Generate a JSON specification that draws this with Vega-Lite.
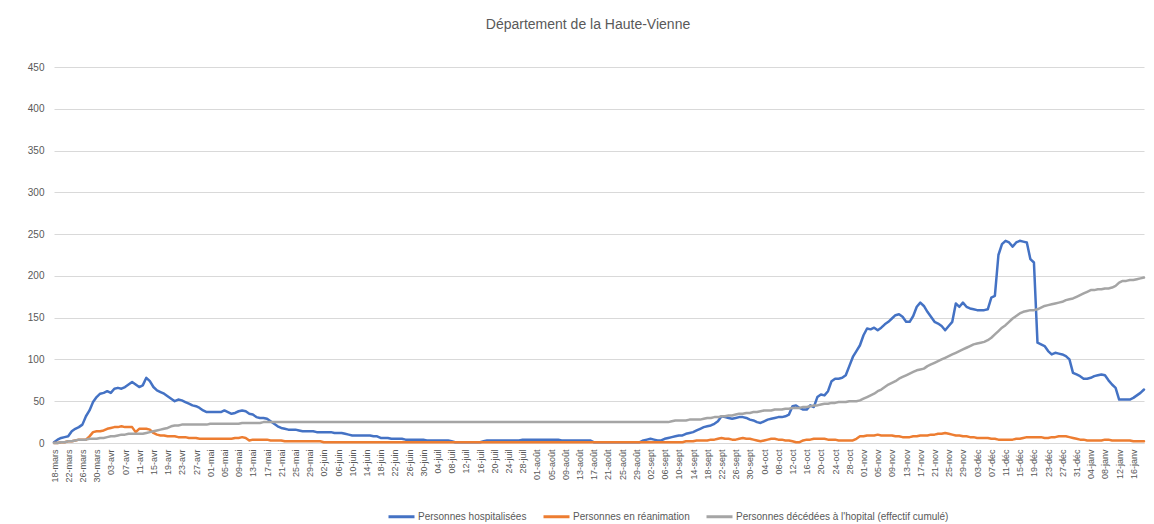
{
  "$schema": "https://vega.github.io/schema/vega-lite/v6.json",
  "width": 1090,
  "height": 376,
  "autosize": "none",
  "padding": {"left": 54, "top": 67, "right": 10, "bottom": 81},
  "background": "white",
  "config": {"view": {"stroke": null}, "font": "Liberation Sans"},
  "title": {"text": "Département de la Haute-Vienne", "fontSize": 14, "fontWeight": "normal", "color": "#595959", "dx": -11, "offset": 30},
  "data": {"values": [
{"t":"2020-03-18","s1":1,"s2":0,"s3":0},{"t":"2020-03-19","s1":4,"s2":0,"s3":0},{"t":"2020-03-20","s1":6,"s2":1,"s3":1},{"t":"2020-03-21","s1":7,"s2":1,"s3":1},{"t":"2020-03-22","s1":8,"s2":2,"s3":2},{"t":"2020-03-23","s1":14,"s2":2,"s3":2},{"t":"2020-03-24","s1":17,"s2":3,"s3":3},{"t":"2020-03-25","s1":19,"s2":4,"s3":4},{"t":"2020-03-26","s1":22,"s2":4,"s3":4},{"t":"2020-03-27","s1":32,"s2":4,"s3":4},{"t":"2020-03-28","s1":39,"s2":8,"s3":5},{"t":"2020-03-29","s1":49,"s2":13,"s3":5},{"t":"2020-03-30","s1":55,"s2":14,"s3":5},{"t":"2020-03-31","s1":59,"s2":14,"s3":6},
{"t":"2020-04-01","s1":60,"s2":15,"s3":6},{"t":"2020-04-02","s1":62,"s2":17,"s3":7},{"t":"2020-04-03","s1":60,"s2":18,"s3":8},{"t":"2020-04-04","s1":65,"s2":19,"s3":8},{"t":"2020-04-05","s1":66,"s2":19,"s3":9},{"t":"2020-04-06","s1":65,"s2":20,"s3":10},{"t":"2020-04-07","s1":67,"s2":19,"s3":10},{"t":"2020-04-08","s1":70,"s2":19,"s3":11},{"t":"2020-04-09","s1":73,"s2":19,"s3":11},{"t":"2020-04-10","s1":70,"s2":13,"s3":11},{"t":"2020-04-11","s1":67,"s2":17,"s3":11},{"t":"2020-04-12","s1":69,"s2":17,"s3":11},{"t":"2020-04-13","s1":78,"s2":17,"s3":12},{"t":"2020-04-14","s1":74,"s2":16,"s3":13},{"t":"2020-04-15","s1":67,"s2":12,"s3":14},{"t":"2020-04-16","s1":63,"s2":10,"s3":15},{"t":"2020-04-17","s1":61,"s2":9,"s3":16},{"t":"2020-04-18","s1":59,"s2":9,"s3":17},{"t":"2020-04-19","s1":56,"s2":8,"s3":18},{"t":"2020-04-20","s1":53,"s2":8,"s3":20},{"t":"2020-04-21","s1":50,"s2":8,"s3":21},{"t":"2020-04-22","s1":52,"s2":7,"s3":21},{"t":"2020-04-23","s1":51,"s2":7,"s3":22},{"t":"2020-04-24","s1":49,"s2":7,"s3":22},{"t":"2020-04-25","s1":47,"s2":6,"s3":22},{"t":"2020-04-26","s1":45,"s2":6,"s3":22},{"t":"2020-04-27","s1":44,"s2":6,"s3":22},{"t":"2020-04-28","s1":42,"s2":5,"s3":22},{"t":"2020-04-29","s1":39,"s2":5,"s3":22},{"t":"2020-04-30","s1":37,"s2":5,"s3":22},
{"t":"2020-05-01","s1":37,"s2":5,"s3":23},{"t":"2020-05-02","s1":37,"s2":5,"s3":23},{"t":"2020-05-03","s1":37,"s2":5,"s3":23},{"t":"2020-05-04","s1":37,"s2":5,"s3":23},{"t":"2020-05-05","s1":39,"s2":5,"s3":23},{"t":"2020-05-06","s1":37,"s2":5,"s3":23},{"t":"2020-05-07","s1":35,"s2":5,"s3":23},{"t":"2020-05-08","s1":36,"s2":6,"s3":23},{"t":"2020-05-09","s1":38,"s2":6,"s3":23},{"t":"2020-05-10","s1":39,"s2":7,"s3":24},{"t":"2020-05-11","s1":38,"s2":6,"s3":24},{"t":"2020-05-12","s1":35,"s2":3,"s3":24},{"t":"2020-05-13","s1":34,"s2":4,"s3":24},{"t":"2020-05-14","s1":31,"s2":4,"s3":24},{"t":"2020-05-15","s1":30,"s2":4,"s3":24},{"t":"2020-05-16","s1":30,"s2":4,"s3":25},{"t":"2020-05-17","s1":29,"s2":4,"s3":25},{"t":"2020-05-18","s1":26,"s2":3,"s3":25},{"t":"2020-05-19","s1":23,"s2":3,"s3":25},{"t":"2020-05-20","s1":20,"s2":3,"s3":25},{"t":"2020-05-21","s1":18,"s2":3,"s3":25},{"t":"2020-05-22","s1":17,"s2":2,"s3":25},{"t":"2020-05-23","s1":16,"s2":2,"s3":25},{"t":"2020-05-24","s1":16,"s2":2,"s3":25},{"t":"2020-05-25","s1":16,"s2":2,"s3":25},{"t":"2020-05-26","s1":15,"s2":2,"s3":25},{"t":"2020-05-27","s1":14,"s2":2,"s3":25},{"t":"2020-05-28","s1":14,"s2":2,"s3":25},{"t":"2020-05-29","s1":14,"s2":2,"s3":25},{"t":"2020-05-30","s1":14,"s2":2,"s3":25},{"t":"2020-05-31","s1":13,"s2":2,"s3":25},
{"t":"2020-06-01","s1":13,"s2":2,"s3":25},{"t":"2020-06-02","s1":13,"s2":1,"s3":25},{"t":"2020-06-03","s1":13,"s2":1,"s3":25},{"t":"2020-06-04","s1":13,"s2":1,"s3":25},{"t":"2020-06-05","s1":12,"s2":1,"s3":25},{"t":"2020-06-06","s1":12,"s2":1,"s3":25},{"t":"2020-06-07","s1":12,"s2":1,"s3":25},{"t":"2020-06-08","s1":11,"s2":1,"s3":25},{"t":"2020-06-09","s1":10,"s2":1,"s3":25},{"t":"2020-06-10","s1":9,"s2":1,"s3":25},{"t":"2020-06-11","s1":9,"s2":1,"s3":25},{"t":"2020-06-12","s1":9,"s2":1,"s3":25},{"t":"2020-06-13","s1":9,"s2":1,"s3":25},{"t":"2020-06-14","s1":9,"s2":1,"s3":25},{"t":"2020-06-15","s1":9,"s2":1,"s3":25},{"t":"2020-06-16","s1":8,"s2":1,"s3":25},{"t":"2020-06-17","s1":8,"s2":1,"s3":25},{"t":"2020-06-18","s1":6,"s2":1,"s3":25},{"t":"2020-06-19","s1":6,"s2":1,"s3":25},{"t":"2020-06-20","s1":6,"s2":1,"s3":25},{"t":"2020-06-21","s1":5,"s2":1,"s3":25},{"t":"2020-06-22","s1":5,"s2":1,"s3":25},{"t":"2020-06-23","s1":5,"s2":1,"s3":25},{"t":"2020-06-24","s1":5,"s2":1,"s3":25},{"t":"2020-06-25","s1":4,"s2":1,"s3":25},{"t":"2020-06-26","s1":4,"s2":1,"s3":25},{"t":"2020-06-27","s1":4,"s2":1,"s3":25},{"t":"2020-06-28","s1":4,"s2":1,"s3":25},{"t":"2020-06-29","s1":4,"s2":1,"s3":25},{"t":"2020-06-30","s1":4,"s2":1,"s3":25},
{"t":"2020-07-01","s1":3,"s2":1,"s3":25},{"t":"2020-07-02","s1":3,"s2":1,"s3":25},{"t":"2020-07-03","s1":3,"s2":1,"s3":25},{"t":"2020-07-04","s1":3,"s2":1,"s3":25},{"t":"2020-07-05","s1":3,"s2":1,"s3":25},{"t":"2020-07-06","s1":3,"s2":1,"s3":25},{"t":"2020-07-07","s1":3,"s2":1,"s3":25},{"t":"2020-07-08","s1":2,"s2":1,"s3":25},{"t":"2020-07-09","s1":1,"s2":1,"s3":25},{"t":"2020-07-10","s1":1,"s2":1,"s3":25},{"t":"2020-07-11","s1":1,"s2":1,"s3":25},{"t":"2020-07-12","s1":1,"s2":1,"s3":25},{"t":"2020-07-13","s1":1,"s2":1,"s3":25},{"t":"2020-07-14","s1":1,"s2":1,"s3":25},{"t":"2020-07-15","s1":1,"s2":1,"s3":25},{"t":"2020-07-16","s1":1,"s2":1,"s3":25},{"t":"2020-07-17","s1":2,"s2":1,"s3":25},{"t":"2020-07-18","s1":3,"s2":1,"s3":25},{"t":"2020-07-19","s1":3,"s2":1,"s3":25},{"t":"2020-07-20","s1":3,"s2":1,"s3":25},{"t":"2020-07-21","s1":3,"s2":1,"s3":25},{"t":"2020-07-22","s1":3,"s2":1,"s3":25},{"t":"2020-07-23","s1":3,"s2":1,"s3":25},{"t":"2020-07-24","s1":3,"s2":1,"s3":25},{"t":"2020-07-25","s1":3,"s2":1,"s3":25},{"t":"2020-07-26","s1":3,"s2":1,"s3":25},{"t":"2020-07-27","s1":3,"s2":1,"s3":25},{"t":"2020-07-28","s1":4,"s2":1,"s3":25},{"t":"2020-07-29","s1":4,"s2":1,"s3":25},{"t":"2020-07-30","s1":4,"s2":1,"s3":25},{"t":"2020-07-31","s1":4,"s2":1,"s3":25},
{"t":"2020-08-01","s1":4,"s2":1,"s3":25},{"t":"2020-08-02","s1":4,"s2":1,"s3":25},{"t":"2020-08-03","s1":4,"s2":1,"s3":25},{"t":"2020-08-04","s1":4,"s2":1,"s3":25},{"t":"2020-08-05","s1":4,"s2":1,"s3":25},{"t":"2020-08-06","s1":4,"s2":1,"s3":25},{"t":"2020-08-07","s1":4,"s2":1,"s3":25},{"t":"2020-08-08","s1":3,"s2":1,"s3":25},{"t":"2020-08-09","s1":3,"s2":1,"s3":25},{"t":"2020-08-10","s1":3,"s2":1,"s3":25},{"t":"2020-08-11","s1":3,"s2":1,"s3":25},{"t":"2020-08-12","s1":3,"s2":1,"s3":25},{"t":"2020-08-13","s1":3,"s2":1,"s3":25},{"t":"2020-08-14","s1":3,"s2":1,"s3":25},{"t":"2020-08-15","s1":3,"s2":1,"s3":25},{"t":"2020-08-16","s1":3,"s2":1,"s3":25},{"t":"2020-08-17","s1":1,"s2":1,"s3":25},{"t":"2020-08-18","s1":1,"s2":1,"s3":25},{"t":"2020-08-19","s1":1,"s2":1,"s3":25},{"t":"2020-08-20","s1":1,"s2":1,"s3":25},{"t":"2020-08-21","s1":1,"s2":1,"s3":25},{"t":"2020-08-22","s1":1,"s2":1,"s3":25},{"t":"2020-08-23","s1":1,"s2":1,"s3":25},{"t":"2020-08-24","s1":1,"s2":1,"s3":25},{"t":"2020-08-25","s1":1,"s2":1,"s3":25},{"t":"2020-08-26","s1":1,"s2":1,"s3":25},{"t":"2020-08-27","s1":1,"s2":1,"s3":25},{"t":"2020-08-28","s1":1,"s2":1,"s3":25},{"t":"2020-08-29","s1":1,"s2":1,"s3":25},{"t":"2020-08-30","s1":1,"s2":1,"s3":25},{"t":"2020-08-31","s1":3,"s2":1,"s3":25},
{"t":"2020-09-01","s1":4,"s2":1,"s3":25},{"t":"2020-09-02","s1":5,"s2":1,"s3":25},{"t":"2020-09-03","s1":4,"s2":1,"s3":25},{"t":"2020-09-04","s1":3,"s2":1,"s3":25},{"t":"2020-09-05","s1":3,"s2":1,"s3":25},{"t":"2020-09-06","s1":5,"s2":1,"s3":25},{"t":"2020-09-07","s1":6,"s2":1,"s3":25},{"t":"2020-09-08","s1":7,"s2":1,"s3":26},{"t":"2020-09-09","s1":8,"s2":1,"s3":27},{"t":"2020-09-10","s1":9,"s2":1,"s3":27},{"t":"2020-09-11","s1":9,"s2":1,"s3":27},{"t":"2020-09-12","s1":11,"s2":2,"s3":27},{"t":"2020-09-13","s1":12,"s2":2,"s3":28},{"t":"2020-09-14","s1":13,"s2":2,"s3":28},{"t":"2020-09-15","s1":15,"s2":3,"s3":28},{"t":"2020-09-16","s1":17,"s2":3,"s3":28},{"t":"2020-09-17","s1":19,"s2":3,"s3":29},{"t":"2020-09-18","s1":20,"s2":3,"s3":30},{"t":"2020-09-19","s1":21,"s2":4,"s3":30},{"t":"2020-09-20","s1":23,"s2":4,"s3":31},{"t":"2020-09-21","s1":26,"s2":5,"s3":31},{"t":"2020-09-22","s1":32,"s2":6,"s3":32},{"t":"2020-09-23","s1":31,"s2":5,"s3":32},{"t":"2020-09-24","s1":30,"s2":5,"s3":33},{"t":"2020-09-25","s1":29,"s2":4,"s3":33},{"t":"2020-09-26","s1":30,"s2":4,"s3":34},{"t":"2020-09-27","s1":31,"s2":5,"s3":35},{"t":"2020-09-28","s1":31,"s2":6,"s3":35},{"t":"2020-09-29","s1":30,"s2":5,"s3":36},{"t":"2020-09-30","s1":28,"s2":5,"s3":36},
{"t":"2020-10-01","s1":27,"s2":4,"s3":37},{"t":"2020-10-02","s1":25,"s2":3,"s3":37},{"t":"2020-10-03","s1":24,"s2":2,"s3":38},{"t":"2020-10-04","s1":26,"s2":3,"s3":39},{"t":"2020-10-05","s1":28,"s2":4,"s3":39},{"t":"2020-10-06","s1":29,"s2":5,"s3":39},{"t":"2020-10-07","s1":30,"s2":5,"s3":40},{"t":"2020-10-08","s1":31,"s2":4,"s3":40},{"t":"2020-10-09","s1":31,"s2":4,"s3":40},{"t":"2020-10-10","s1":32,"s2":3,"s3":41},{"t":"2020-10-11","s1":34,"s2":3,"s3":41},{"t":"2020-10-12","s1":44,"s2":2,"s3":42},{"t":"2020-10-13","s1":45,"s2":1,"s3":42},{"t":"2020-10-14","s1":42,"s2":1,"s3":42},{"t":"2020-10-15","s1":40,"s2":3,"s3":43},{"t":"2020-10-16","s1":40,"s2":4,"s3":43},{"t":"2020-10-17","s1":45,"s2":4,"s3":44},{"t":"2020-10-18","s1":43,"s2":5,"s3":45},{"t":"2020-10-19","s1":55,"s2":5,"s3":45},{"t":"2020-10-20","s1":58,"s2":5,"s3":46},{"t":"2020-10-21","s1":57,"s2":5,"s3":47},{"t":"2020-10-22","s1":62,"s2":4,"s3":47},{"t":"2020-10-23","s1":74,"s2":4,"s3":48},{"t":"2020-10-24","s1":77,"s2":4,"s3":48},{"t":"2020-10-25","s1":77,"s2":3,"s3":49},{"t":"2020-10-26","s1":78,"s2":3,"s3":49},{"t":"2020-10-27","s1":81,"s2":3,"s3":49},{"t":"2020-10-28","s1":92,"s2":3,"s3":50},{"t":"2020-10-29","s1":103,"s2":3,"s3":50},{"t":"2020-10-30","s1":110,"s2":5,"s3":50},{"t":"2020-10-31","s1":117,"s2":8,"s3":51},
{"t":"2020-11-01","s1":129,"s2":8,"s3":53},{"t":"2020-11-02","s1":137,"s2":9,"s3":55},{"t":"2020-11-03","s1":136,"s2":9,"s3":57},{"t":"2020-11-04","s1":138,"s2":9,"s3":59},{"t":"2020-11-05","s1":135,"s2":10,"s3":62},{"t":"2020-11-06","s1":138,"s2":9,"s3":64},{"t":"2020-11-07","s1":142,"s2":9,"s3":67},{"t":"2020-11-08","s1":145,"s2":9,"s3":70},{"t":"2020-11-09","s1":149,"s2":9,"s3":72},{"t":"2020-11-10","s1":153,"s2":8,"s3":74},{"t":"2020-11-11","s1":154,"s2":8,"s3":77},{"t":"2020-11-12","s1":151,"s2":7,"s3":79},{"t":"2020-11-13","s1":145,"s2":7,"s3":81},{"t":"2020-11-14","s1":145,"s2":7,"s3":83},{"t":"2020-11-15","s1":152,"s2":8,"s3":85},{"t":"2020-11-16","s1":163,"s2":8,"s3":87},{"t":"2020-11-17","s1":168,"s2":9,"s3":88},{"t":"2020-11-18","s1":164,"s2":9,"s3":89},{"t":"2020-11-19","s1":157,"s2":9,"s3":92},{"t":"2020-11-20","s1":151,"s2":10,"s3":94},{"t":"2020-11-21","s1":145,"s2":10,"s3":96},{"t":"2020-11-22","s1":143,"s2":11,"s3":98},{"t":"2020-11-23","s1":140,"s2":11,"s3":100},{"t":"2020-11-24","s1":135,"s2":12,"s3":102},{"t":"2020-11-25","s1":140,"s2":11,"s3":104},{"t":"2020-11-26","s1":145,"s2":10,"s3":106},{"t":"2020-11-27","s1":167,"s2":9,"s3":108},{"t":"2020-11-28","s1":163,"s2":9,"s3":110},{"t":"2020-11-29","s1":168,"s2":8,"s3":112},{"t":"2020-11-30","s1":163,"s2":8,"s3":114},
{"t":"2020-12-01","s1":161,"s2":7,"s3":116},{"t":"2020-12-02","s1":160,"s2":7,"s3":118},{"t":"2020-12-03","s1":159,"s2":6,"s3":119},{"t":"2020-12-04","s1":159,"s2":6,"s3":120},{"t":"2020-12-05","s1":159,"s2":6,"s3":121},{"t":"2020-12-06","s1":160,"s2":6,"s3":123},{"t":"2020-12-07","s1":174,"s2":5,"s3":126},{"t":"2020-12-08","s1":176,"s2":5,"s3":130},{"t":"2020-12-09","s1":225,"s2":4,"s3":134},{"t":"2020-12-10","s1":238,"s2":4,"s3":138},{"t":"2020-12-11","s1":242,"s2":4,"s3":141},{"t":"2020-12-12","s1":240,"s2":4,"s3":145},{"t":"2020-12-13","s1":235,"s2":4,"s3":149},{"t":"2020-12-14","s1":240,"s2":5,"s3":152},{"t":"2020-12-15","s1":242,"s2":5,"s3":155},{"t":"2020-12-16","s1":241,"s2":6,"s3":157},{"t":"2020-12-17","s1":240,"s2":7,"s3":158},{"t":"2020-12-18","s1":220,"s2":7,"s3":159},{"t":"2020-12-19","s1":216,"s2":7,"s3":159},{"t":"2020-12-20","s1":120,"s2":7,"s3":160},{"t":"2020-12-21","s1":118,"s2":7,"s3":162},{"t":"2020-12-22","s1":116,"s2":6,"s3":164},{"t":"2020-12-23","s1":110,"s2":6,"s3":165},{"t":"2020-12-24","s1":106,"s2":7,"s3":166},{"t":"2020-12-25","s1":108,"s2":7,"s3":167},{"t":"2020-12-26","s1":107,"s2":8,"s3":168},{"t":"2020-12-27","s1":106,"s2":8,"s3":169},{"t":"2020-12-28","s1":104,"s2":8,"s3":171},{"t":"2020-12-29","s1":100,"s2":7,"s3":172},{"t":"2020-12-30","s1":84,"s2":6,"s3":173},{"t":"2020-12-31","s1":82,"s2":5,"s3":175},
{"t":"2021-01-01","s1":80,"s2":4,"s3":177},{"t":"2021-01-02","s1":77,"s2":4,"s3":179},{"t":"2021-01-03","s1":77,"s2":3,"s3":181},{"t":"2021-01-04","s1":78,"s2":3,"s3":183},{"t":"2021-01-05","s1":80,"s2":3,"s3":183},{"t":"2021-01-06","s1":81,"s2":3,"s3":184},{"t":"2021-01-07","s1":82,"s2":3,"s3":184},{"t":"2021-01-08","s1":81,"s2":4,"s3":185},{"t":"2021-01-09","s1":75,"s2":4,"s3":185},{"t":"2021-01-10","s1":70,"s2":3,"s3":186},{"t":"2021-01-11","s1":66,"s2":3,"s3":188},{"t":"2021-01-12","s1":52,"s2":3,"s3":192},{"t":"2021-01-13","s1":52,"s2":3,"s3":194},{"t":"2021-01-14","s1":52,"s2":3,"s3":194},{"t":"2021-01-15","s1":52,"s2":3,"s3":195},{"t":"2021-01-16","s1":54,"s2":2,"s3":195},{"t":"2021-01-17","s1":57,"s2":2,"s3":196},{"t":"2021-01-18","s1":60,"s2":2,"s3":197},{"t":"2021-01-19","s1":64,"s2":2,"s3":198}
  ]},
  "transform": [{"fold": ["s1", "s2", "s3"], "as": ["k", "v"]}],
  "mark": {"type": "line", "strokeWidth": 2.5, "strokeJoin": "round", "strokeCap": "round"},
  "encoding": {
    "x": {
      "field": "t", "type": "temporal",
      "scale": {"type": "utc", "domain": [{"year": 2020, "month": 3, "date": 18, "utc": true}, {"year": 2021, "month": 1, "date": 19, "utc": true}], "nice": false},
      "axis": {
        "title": null, "grid": false, "ticks": false, "domain": true, "domainColor": "#D9D9D9",
        "tickCount": {"interval": "day", "step": 1},
        "labelOverlap": false, "labelAngle": 270, "labelPadding": 6, "labelFontSize": 9, "labelColor": "#595959", "labelFlush": false,
        "labelExpr": "(round((datum.value - 1584489600000) / 86400000) % 4 == 0) ? utcFormat(datum.value, '%d') + '-' + ['janv','févr','mars','avr','mai','juin','juil','août','sept','oct','nov','déc'][utcmonth(datum.value)] : ''"
      }
    },
    "y": {
      "field": "v", "type": "quantitative",
      "scale": {"domain": [0, 450], "nice": false},
      "axis": {"title": null, "values": [0, 50, 100, 150, 200, 250, 300, 350, 400, 450], "domain": false, "ticks": false, "gridColor": "#D9D9D9", "gridWidth": 1, "labelPadding": 10, "labelFontSize": 10, "labelColor": "#595959"}
    },
    "color": {
      "field": "k", "type": "nominal",
      "scale": {"domain": ["s1", "s2", "s3"], "range": ["#4472C4", "#ED7D31", "#A5A5A5"]},
      "legend": {
        "title": null, "orient": "none", "direction": "horizontal", "legendX": 333, "legendY": 435,
        "symbolType": "stroke", "symbolSize": 676, "symbolStrokeWidth": 3, "labelFontSize": 10, "labelColor": "#595959", "columnPadding": 10, "labelOffset": 2, "labelLimit": 0,
        "labelExpr": "datum.label == 's1' ? 'Personnes hospitalisées' : datum.label == 's2' ? 'Personnes en réanimation' : \"Personnes décédées à l'hopital (effectif cumulé)\""
      }
    }
  }
}
